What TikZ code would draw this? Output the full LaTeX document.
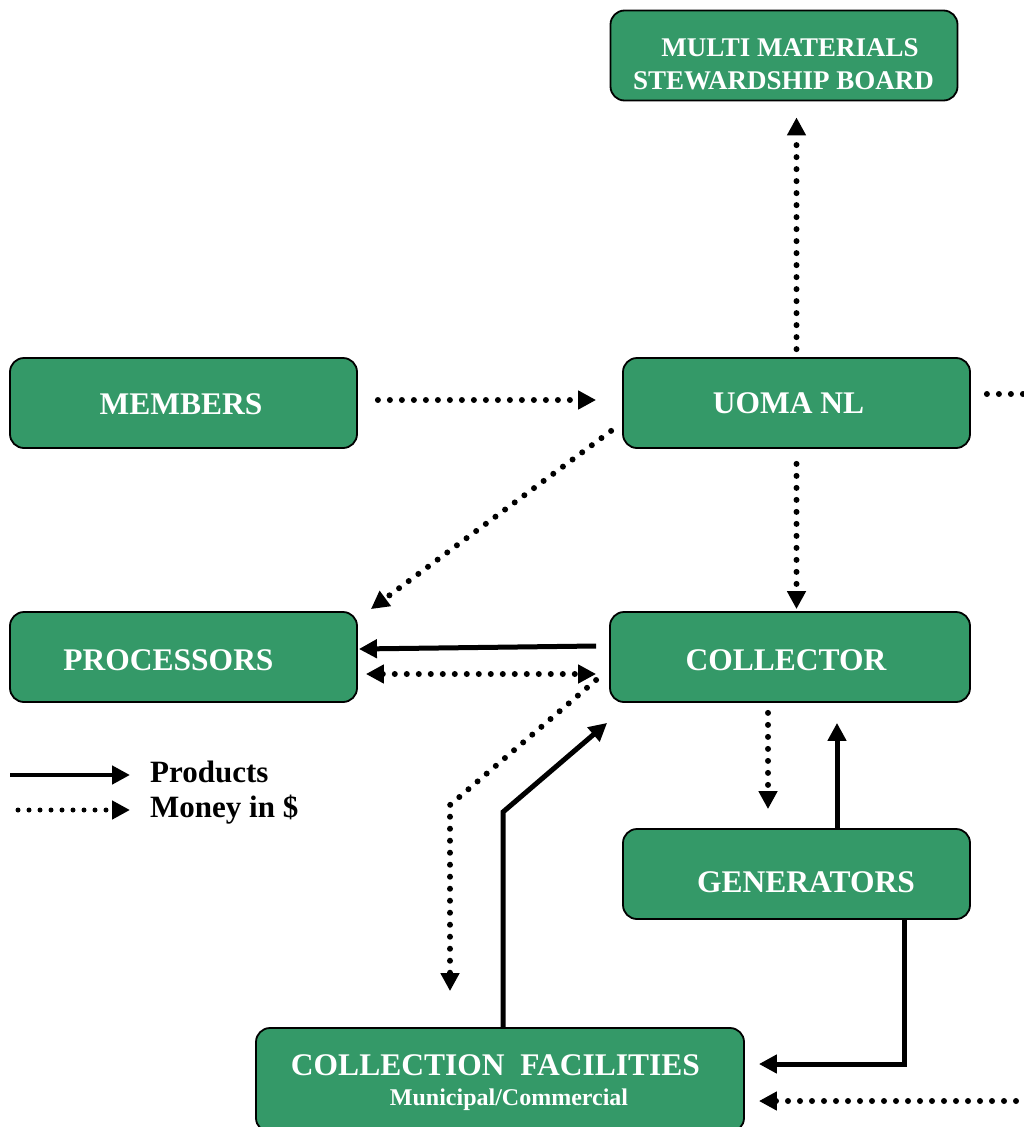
\documentclass[tikz,border=0pt]{standalone}
\usepackage{fontspec}
\setmainfont{Liberation Serif}
\usetikzlibrary{arrows.meta}
\definecolor{boxgreen}{RGB}{52,153,104}
\begin{document}
\begin{tikzpicture}[x=1pt,y=-1pt,
  box/.style={draw=black, line width=1.8pt, fill=boxgreen, rounded corners=14pt, minimum width=347pt, minimum height=90pt, inner sep=0pt},
  lbl/.style={text=white, font=\bfseries\fontsize{31.5}{36}\selectfont, inner sep=0pt, anchor=base},
  lblsmall/.style={lbl, font=\bfseries\fontsize{27}{32}\selectfont},
  leg/.style={text=black, font=\bfseries\fontsize{31}{36}\selectfont, inner sep=0pt, anchor=base west},
  tip/.style={-{Triangle[length=18pt,width=18pt]}},
  prod/.style={line width=5pt, tip},
  moneyline/.style={line width=6pt, line cap=round, dash pattern=on 0pt off 12pt},
  money/.style={moneyline, tip},
]
\useasboundingbox (0,0) rectangle (1024,1127);

% boxes
\node[box] (mmsb) at (784,55.5) {};
\node[box] (members) at (183.5,403) {};
\node[box] (uoma) at (796.5,403) {};
\node[box] (proc) at (183.5,657) {};
\node[box, minimum width=360pt] (coll) at (790,657) {};
\node[box] (gen) at (796.5,874) {};
\node[box, minimum width=488pt, minimum height=104pt] (fac) at (500,1080) {};

% labels
\node[lblsmall] (mmsbt1) at (790,56) {MULTI MATERIALS};
\node[lblsmall] (mmsbt2) at (783.5,89) {STEWARDSHIP BOARD};
\node[lbl] (memberst) at (181,414) {MEMBERS};
\node[lbl] (uomat) at (788.5,413) {UOMA NL};
\node[lbl] (proct) at (168.5,670) {PROCESSORS};
\node[lbl] (collt) at (786,670) {COLLECTOR};
\node[lbl] (gent) at (806,892) {GENERATORS};
\node[lbl] (fact1) at (495.5,1075) {COLLECTION\hspace{0.5em}FACILITIES};
\node[lbl, font=\bfseries\fontsize{24}{28}\selectfont] (fact2) at (509,1105) {Municipal/Commercial};

% legend
\node[leg] (prodlbl) at (150,782) {Products};
\node[leg] (moneylbl) at (150,817) {Money in \$};
\coordinate (ls1) at (10,775);
\coordinate (le1) at (130,775);
\coordinate (ls2) at (18,810);
\coordinate (le2) at (130,810);
\draw[prod, line width=4.5pt] (ls1) -- (le1);
\draw[money, line width=5pt, dash pattern=on 0pt off 11pt] (ls2) -- (le2);

% connectors
\draw[money, shorten >=16pt] ([yshift=8pt]uoma.north) -- (uoma.north |- mmsb.south);
\draw[money] ([xshift=20pt,yshift=3pt]members.east) -- ([xshift=-26pt,yshift=3pt]uoma.west);
\coordinate (uomaout) at (1040,394);
\draw[moneyline] ([xshift=16pt,yshift=9pt]uoma.east) -- (uomaout);
\draw[money] ([xshift=-11pt,yshift=18pt]uoma.south west) -- ([xshift=13pt,yshift=2pt]proc.north east);
\draw[money, shorten >=2pt] ([yshift=-15pt]uoma.south) -- (uoma.south |- coll.north);
\draw[prod] ([xshift=-13pt,yshift=11pt]coll.west) -- ([xshift=1pt,yshift=8pt]proc.east);
\draw[money, {Triangle[length=18pt,width=18pt]}-{Triangle[length=18pt,width=18pt]}] ([xshift=8pt,yshift=-17pt]proc.east) -- ([xshift=-13pt,yshift=-17pt]coll.west);
\coordinate (b1) at (450,805);
\draw[money, shorten >=36pt] ([xshift=-13pt,yshift=-23pt]coll.west) -- (b1) -- (b1 |- fac.north);
\coordinate (b2) at (503,812);
\draw[prod] (b2 |- fac.north) -- (b2) -- ([xshift=-2pt,yshift=-20pt]coll.south west);
\draw[money] ([xshift=-22pt,yshift=-10pt]coll.south) -- ([xshift=-28.5pt,yshift=19pt]gen.north);
\draw[prod] ([xshift=40.5pt]gen.north) -- ([xshift=47pt,yshift=-20pt]coll.south);
\coordinate (b3) at (904,1064);
\draw[prod] ([xshift=107.5pt]gen.south) -- (b3) -- ([xshift=14pt]fac.east |- b3);
\coordinate (rin) at (1040,1101);
\draw[money] (rin) -- ([xshift=14pt]fac.east |- rin);
\end{tikzpicture}
\end{document}
